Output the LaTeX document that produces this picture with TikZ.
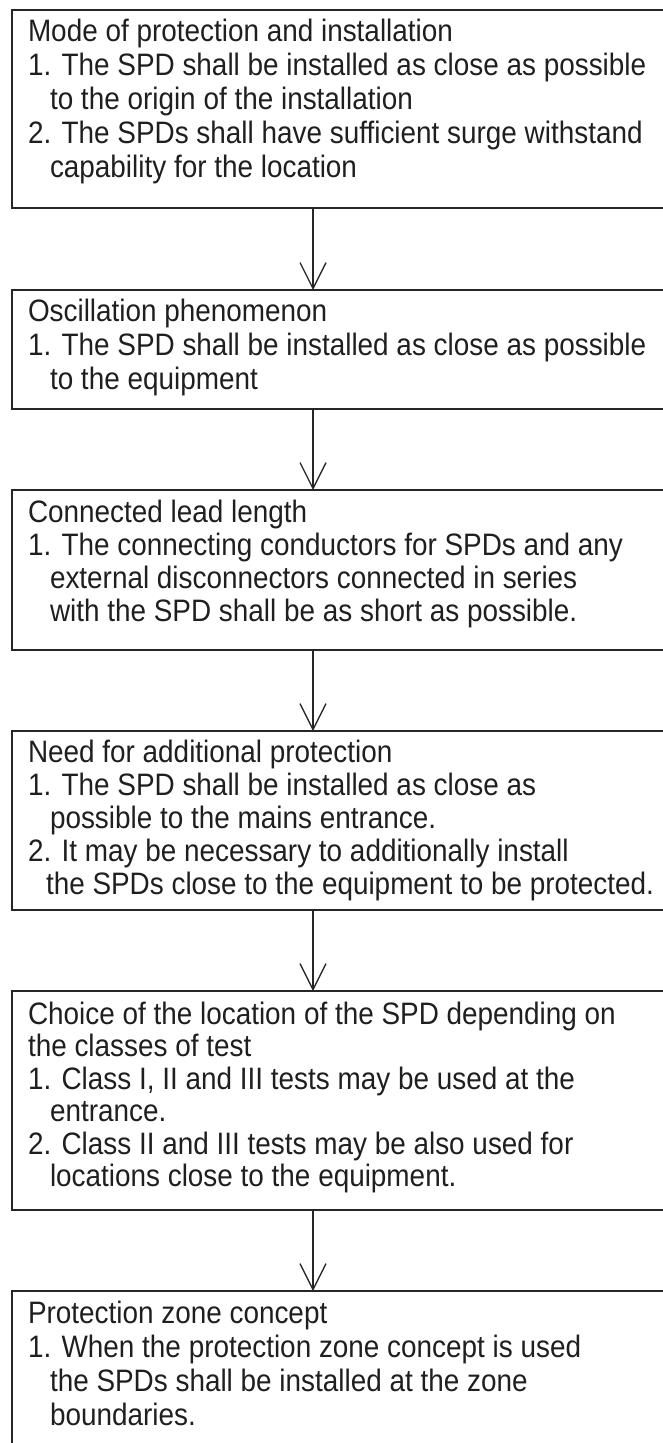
\documentclass[tikz,border=0pt]{standalone}
\usepackage{fontspec}
\setmainfont{Liberation Sans}[FakeStretch=0.9]
\usetikzlibrary{arrows.meta}
\begin{document}
\begin{tikzpicture}[x=1pt,y=-1pt,
  box/.style={draw=black!85,line width=1.5pt,inner sep=0pt,outer sep=0pt,anchor=north west,minimum width=690pt},
  ln/.style={anchor=base west,inner sep=0pt,outer sep=0pt,text=black!88,font=\fontsize{31}{34}\selectfont},
  arr/.style={draw=black!85,line width=1.3pt,-{Straight Barb[length=26pt,width=26pt,line width=1.3pt]}}]
\useasboundingbox (0,0) rectangle (662,1443);
% boxes
\node[box,minimum height=198pt] (b1) at (12,10) {};
\node[box,minimum height=119pt] (b2) at (12,290) {};
\node[box,minimum height=160pt] (b3) at (12,490) {};
\node[box,minimum height=179pt] (b4) at (12,731) {};
\node[box,minimum height=219pt] (b5) at (12,991) {};
\node[box,minimum height=180pt] (b6) at (12,1291) {};
% connectors
\coordinate (ax) at (313,0);
\draw[arr] (b1.south -| ax) -- (b2.north -| ax);
\draw[arr] (b2.south -| ax) -- (b3.north -| ax);
\draw[arr] (b3.south -| ax) -- (b4.north -| ax);
\draw[arr] (b4.south -| ax) -- (b5.north -| ax);
\draw[arr] (b5.south -| ax) -- (b6.north -| ax);
% box 1 text
\node[ln] (t1a) at (28,41) {Mode of protection and installation};
\node[ln] (t1b) at (28,75) {1. The SPD shall be installed as close as possible};
\node[ln] (t1c) at (50,109) {to the origin of the installation};
\node[ln] (t1d) at (28,143) {2. The SPDs shall have sufficient surge withstand};
\node[ln] (t1e) at (50,177) {capability for the location};
% box 2 text
\node[ln] (t2a) at (28,321) {Oscillation phenomenon};
\node[ln] (t2b) at (28,355) {1. The SPD shall be installed as close as possible};
\node[ln] (t2c) at (50,389) {to the equipment};
% box 3 text
\node[ln] (t3a) at (28,522) {Connected lead length};
\node[ln] (t3b) at (28,555) {1. The connecting conductors for SPDs and any};
\node[ln] (t3c) at (50,588) {external disconnectors connected in series};
\node[ln] (t3d) at (50,621) {with the SPD shall be as short as possible.};
% box 4 text
\node[ln] (t4a) at (28,762) {Need for additional protection};
\node[ln] (t4b) at (28,795) {1. The SPD shall be installed as close as};
\node[ln] (t4c) at (50,828) {possible to the mains entrance.};
\node[ln] (t4d) at (28,861) {2. It may be necessary to additionally install};
\node[ln] (t4e) at (46,894) {the SPDs close to the equipment to be protected.};
% box 5 text
\node[ln] (t5a) at (28,1024) {Choice of the location of the SPD depending on};
\node[ln] (t5b) at (28,1056) {the classes of test};
\node[ln] (t5c) at (28,1089) {1. Class I, II and III tests may be used at the};
\node[ln] (t5d) at (50,1121) {entrance.};
\node[ln] (t5e) at (28,1154) {2. Class II and III tests may be also used for};
\node[ln] (t5f) at (50,1186) {locations close to the equipment.};
% box 6 text
\node[ln] (t6a) at (28,1323) {Protection zone concept};
\node[ln] (t6b) at (28,1357) {1. When the protection zone concept is used};
\node[ln] (t6c) at (50,1391) {the SPDs shall be installed at the zone};
\node[ln] (t6d) at (50,1425) {boundaries.};
\end{tikzpicture}
\end{document}
